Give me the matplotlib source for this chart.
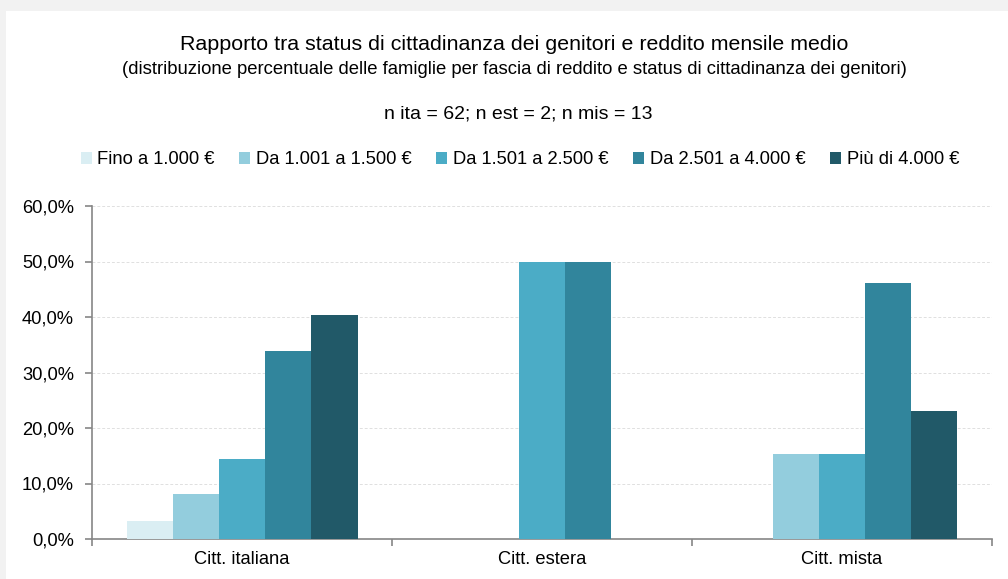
import matplotlib
matplotlib.use("Agg")
import matplotlib.pyplot as plt
from matplotlib.patches import Rectangle
from matplotlib.ticker import FuncFormatter, MultipleLocator
import numpy as np

plt.rcParams['font.family'] = ['Liberation Sans', 'DejaVu Sans']

categories = ["Citt. italiana", "Citt. estera", "Citt. mista"]
series_names = ["Fino a 1.000 €", "Da 1.001 a 1.500 €", "Da 1.501 a 2.500 €",
                "Da 2.501 a 4.000 €", "Più di 4.000 €"]
fino_1000 = [3.2, 0.0, 0.0]
da_1001_1500 = [8.1, 0.0, 15.4]
da_1501_2500 = [14.5, 50.0, 15.4]
da_2501_4000 = [33.9, 50.0, 46.2]
piu_4000 = [40.3, 0.0, 23.1]
series_values = [fino_1000, da_1001_1500, da_1501_2500, da_2501_4000, piu_4000]
colors = ["#daeef3", "#93cddd", "#4bacc6", "#31859c", "#215968"]

title = "Rapporto tra status di cittadinanza dei genitori e reddito mensile medio"
subtitle = ("(distribuzione percentuale delle famiglie per fascia di reddito "
            "e status di cittadinanza dei genitori)")
sample_note = "n ita = 62; n est = 2; n mis = 13"

W, H = 1008, 579
fig = plt.figure(figsize=(W / 100, H / 100), dpi=100, facecolor="#f2f2f2")

# white chart panel inside the grey frame
fig.patches.append(Rectangle((6 / W, 0), 1 - 6 / W, 1 - 11 / H,
                             transform=fig.transFigure, facecolor="white",
                             edgecolor="none", zorder=-5))

ax = fig.add_axes([92 / W, 1 - 539 / H, (992 - 92) / W, (539 - 206) / H])
ax.set_zorder(2)
ax.set_facecolor("none")

x = np.arange(len(categories))
bar_w = 0.154
n = len(series_values)
for i, (vals, name, col) in enumerate(zip(series_values, series_names, colors)):
    offs = (i - (n - 1) / 2) * bar_w
    ax.bar(x + offs, vals, width=bar_w, color=col, label=name, zorder=3,
           edgecolor="none")

ax.set_xlim(-0.5, len(categories) - 0.5)
ax.set_ylim(0, 60)
ax.yaxis.set_major_locator(MultipleLocator(10))
ax.yaxis.set_major_formatter(FuncFormatter(lambda v, p: f"{v:.1f}%".replace(".", ",")))
ax.set_xticks(x)
ax.set_xticklabels(categories)
ax.set_xticks(np.arange(-0.5, len(categories), 1.0), minor=True)
ax.tick_params(axis="x", which="major", length=0, pad=9, labelsize=13.2)
ax.tick_params(axis="x", which="minor", length=5, width=1.2, color="#868686",
               direction="out")
ax.tick_params(axis="y", length=5, width=1.2, color="#868686", pad=8,
               labelsize=13.2)

ax.grid(axis="y", color="#e0e0e0", linestyle=(0, (3, 2)), linewidth=0.7, zorder=0)
for side in ("top", "right"):
    ax.spines[side].set_visible(False)
for side in ("left", "bottom"):
    ax.spines[side].set_color("#868686")
    ax.spines[side].set_linewidth(1.2)

fig.text(514 / W, 1 - 45 / H, title, ha="center", va="center", fontsize=15.4)
fig.text(514 / W, 1 - 69 / H, subtitle, ha="center", va="center", fontsize=13.3)
fig.text(518 / W, 1 - 114 / H, sample_note, ha="center", va="center", fontsize=14.0)

fig.legend(loc="center", bbox_to_anchor=(520 / W, 1 - 160 / H), ncol=5,
           frameon=False, fontsize=13.2, handlelength=0.6, handleheight=0.6,
           handletextpad=0.3, columnspacing=1.35)

fig.savefig("out.png", dpi=100, facecolor=fig.get_facecolor())
